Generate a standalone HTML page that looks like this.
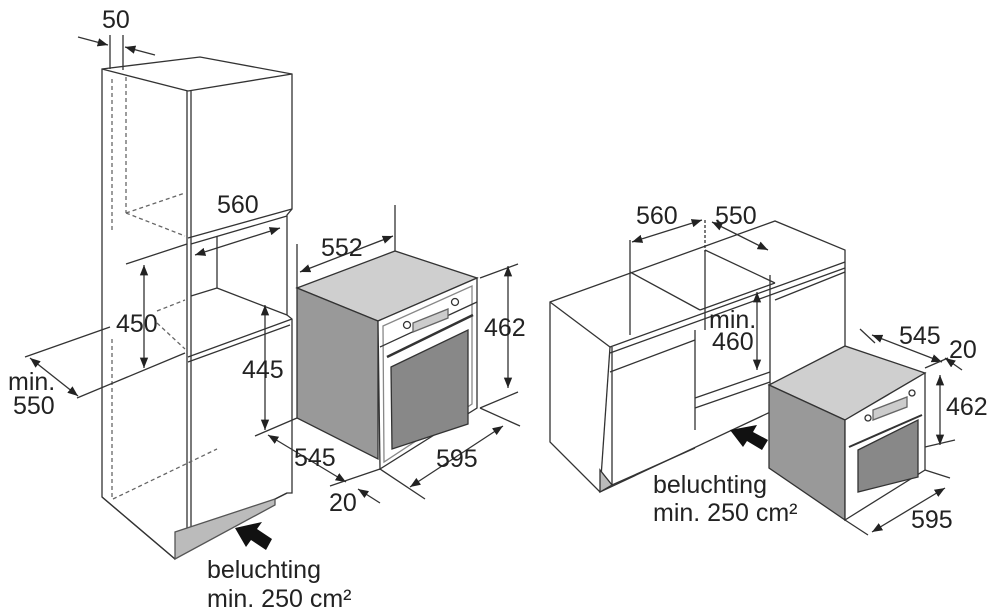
<!DOCTYPE html>
<html><head><meta charset="utf-8"><style>
html,body{margin:0;padding:0;background:#fff;}
svg{display:block}
text{font-family:"Liberation Sans",sans-serif;font-size:25px;fill:#222}
</style></head><body>
<svg width="1000" height="615" viewBox="0 0 1000 615" xmlns="http://www.w3.org/2000/svg">
<defs>
<marker id="a" viewBox="0 0 10 10" refX="10" refY="5" markerWidth="8" markerHeight="8" orient="auto-start-reverse"><path d="M0,1 L10,5 L0,9 z" fill="#222"/></marker>
</defs>
<g stroke="#333" stroke-width="1.3" fill="none">
<!-- tall cabinet -->
<polygon points="102,69 200,57 292,74 292,209 287,215 287,315 292,319 292,493 287,493 190,542 175,559 102,497" fill="#fff"/>
<line x1="102" y1="69" x2="188" y2="91"/>
<line x1="188" y1="91" x2="292" y2="74"/>
<line x1="187" y1="91" x2="187" y2="545"/>
<line x1="191" y1="91" x2="191" y2="543"/>
<line x1="188" y1="238" x2="292" y2="209"/>
<line x1="191" y1="244" x2="287" y2="216"/>
<line x1="217" y1="236" x2="217" y2="288"/>
<line x1="191" y1="296" x2="217" y2="288"/>
<line x1="217" y1="288" x2="287" y2="315"/>
<line x1="188" y1="357" x2="292" y2="319"/>
<line x1="188" y1="362" x2="290" y2="325"/>
<line x1="190" y1="542" x2="287" y2="493"/>
<line x1="102" y1="497" x2="175" y2="559"/>
<polygon points="175,532 175,559 275,505 275,499" fill="#bbb" stroke="#555"/>
<g stroke-dasharray="4,3" stroke="#666">
<line x1="112" y1="79" x2="112" y2="233"/>
<line x1="126" y1="77" x2="126" y2="213"/>
<line x1="126" y1="213" x2="185" y2="193"/>
<line x1="126" y1="213" x2="185" y2="236"/>
<line x1="112" y1="339" x2="112" y2="499"/>
<line x1="113" y1="499" x2="217" y2="449"/>
<line x1="157" y1="311" x2="185" y2="300"/>
<line x1="157" y1="323" x2="185" y2="349"/>
</g>
<!-- dims left -->
<line x1="110" y1="35" x2="110" y2="69"/><line x1="123" y1="35" x2="123" y2="70"/>
<line x1="78" y1="37" x2="108" y2="45" marker-end="url(#a)"/>
<line x1="155" y1="55" x2="125" y2="47" marker-end="url(#a)"/>
<line x1="195" y1="255" x2="280" y2="228" marker-start="url(#a)" marker-end="url(#a)"/>
<line x1="126" y1="264" x2="187" y2="244"/>
<line x1="144" y1="265" x2="144" y2="368" marker-start="url(#a)" marker-end="url(#a)"/>
<line x1="25" y1="357" x2="110" y2="327"/>
<line x1="77" y1="398" x2="185" y2="353"/>
<line x1="30" y1="358" x2="78" y2="396" marker-start="url(#a)" marker-end="url(#a)"/>
<line x1="265" y1="305" x2="265" y2="430" marker-start="url(#a)" marker-end="url(#a)"/>
<line x1="255" y1="436" x2="297" y2="418"/>
<line x1="268" y1="435" x2="346" y2="482" marker-start="url(#a)" marker-end="url(#a)"/>
<line x1="330" y1="486" x2="380" y2="469"/>
<line x1="358" y1="489" x2="380" y2="503" marker-start="url(#a)"/>
<!-- middle oven -->
<polygon points="297,288 395,251 477,278 378,321" fill="#cfcfcf"/>
<polygon points="297,288 378,321 378,459 297,418" fill="#999"/>
<polygon points="378,321 477,278 477,408 380,469" fill="#fff"/>
<polygon points="383,326 472,286 472,404 384,462" fill="#fff" stroke="#888"/>
<line x1="380" y1="347" x2="477" y2="302"/>
<polygon points="391,367 468,330 468,424 392,449" fill="#888"/>
<line x1="387" y1="357" x2="473" y2="315" stroke-width="2.5"/>
<polygon points="413,323 448,309 448,318 413,332" fill="#ccc" stroke="#666"/>
<circle cx="407" cy="325" r="3.5"/><circle cx="455" cy="302" r="3.5"/>
<line x1="297" y1="244" x2="297" y2="288"/>
<line x1="395" y1="205" x2="395" y2="251"/>
<line x1="300" y1="272" x2="393" y2="236" marker-start="url(#a)" marker-end="url(#a)"/>
<line x1="480" y1="278" x2="518" y2="264"/>
<line x1="480" y1="408" x2="518" y2="392"/>
<line x1="508" y1="266" x2="508" y2="388" marker-start="url(#a)" marker-end="url(#a)"/>
<line x1="480" y1="408" x2="520" y2="426"/>
<line x1="380" y1="469" x2="425" y2="499"/>
<line x1="410" y1="487" x2="503" y2="426" marker-start="url(#a)" marker-end="url(#a)"/>
<!-- right cabinets -->
<polygon points="550,302 775,221 845,250 845,377 600,492 550,442" fill="#fff"/>
<line x1="550" y1="302" x2="610" y2="347"/>
<line x1="610" y1="347" x2="845" y2="262"/>
<line x1="610" y1="353" x2="845" y2="268"/>
<line x1="610" y1="347" x2="600" y2="492"/>
<line x1="612" y1="347" x2="612" y2="485"/>
<line x1="630" y1="272" x2="700" y2="310"/>
<line x1="705" y1="250" x2="775" y2="283"/>
<line x1="630" y1="272" x2="630" y2="335"/>
<line x1="705" y1="250" x2="705" y2="330"/>
<line x1="610" y1="372" x2="695" y2="340"/>
<line x1="695" y1="330" x2="695" y2="430"/>
<line x1="695" y1="398" x2="770" y2="372"/>
<line x1="695" y1="408" x2="770" y2="382"/>
<line x1="770" y1="275" x2="770" y2="385"/>
<line x1="775" y1="300" x2="845" y2="272"/>
<line x1="612" y1="485" x2="695" y2="448"/>
<polygon points="600,470 600,492 612,485" fill="#bbb"/>
<line x1="700" y1="310" x2="775" y2="283"/>
<line x1="630" y1="240" x2="630" y2="272"/>
<line x1="705" y1="220" x2="705" y2="252" stroke-dasharray="3,2"/>
<line x1="632" y1="242" x2="702" y2="220" marker-start="url(#a)" marker-end="url(#a)"/>
<line x1="712" y1="222" x2="768" y2="250" marker-start="url(#a)" marker-end="url(#a)"/>
<line x1="757" y1="292" x2="757" y2="370" marker-start="url(#a)" marker-end="url(#a)"/>
<!-- right oven -->
<polygon points="769,385 845,346 925,373 845,420" fill="#cfcfcf"/>
<polygon points="769,385 845,420 845,520 769,468" fill="#999"/>
<polygon points="845,420 925,373 925,470 845,520" fill="#fff"/>
<polygon points="858,450 918,420 918,477 858,492" fill="#888"/>
<line x1="849" y1="447" x2="922" y2="415" stroke-width="2"/>
<circle cx="868" cy="418" r="3"/><circle cx="912" cy="393" r="3"/>
<polygon points="873,410 907,397 907,407 873,420" fill="#ccc" stroke="#666"/>
<line x1="872" y1="335" x2="942" y2="362" marker-start="url(#a)" marker-end="url(#a)"/>
<line x1="860" y1="329" x2="875" y2="343"/>
<line x1="925" y1="368" x2="948" y2="358"/>
<line x1="945" y1="358" x2="962" y2="370" marker-start="url(#a)"/>
<line x1="940" y1="375" x2="940" y2="445" marker-start="url(#a)" marker-end="url(#a)"/>
<line x1="925" y1="447" x2="955" y2="440"/>
<line x1="925" y1="470" x2="950" y2="478"/>
<line x1="872" y1="532" x2="945" y2="488" marker-start="url(#a)" marker-end="url(#a)"/>
<line x1="845" y1="520" x2="868" y2="535"/>
</g>
<!-- block arrows -->
<polygon points="235,528 262,522 257,529 272,539 266,550 251,540 246,547" fill="#111"/>
<polygon points="730,430 757,425 753,432 768,440 762,450 747,441 743,447" fill="#111"/>
<g>
<text x="102" y="28">50</text>
<text x="217" y="213">560</text>
<text x="321" y="256">552</text>
<text x="484" y="336">462</text>
<text x="116" y="332">450</text>
<text x="242" y="378">445</text>
<text x="8" y="390">min.</text>
<text x="13" y="414">550</text>
<text x="294" y="466">545</text>
<text x="436" y="467">595</text>
<text x="329" y="511">20</text>
<text x="207" y="578">beluchting</text>
<text x="207" y="607">min. 250 cm²</text>
<text x="636" y="224">560</text>
<text x="715" y="224">550</text>
<text x="709" y="328">min.</text>
<text x="712" y="350">460</text>
<text x="899" y="344">545</text>
<text x="949" y="358">20</text>
<text x="946" y="415">462</text>
<text x="911" y="528">595</text>
<text x="653" y="493">beluchting</text>
<text x="653" y="521">min. 250 cm²</text>
</g>
</svg>
</body></html>
